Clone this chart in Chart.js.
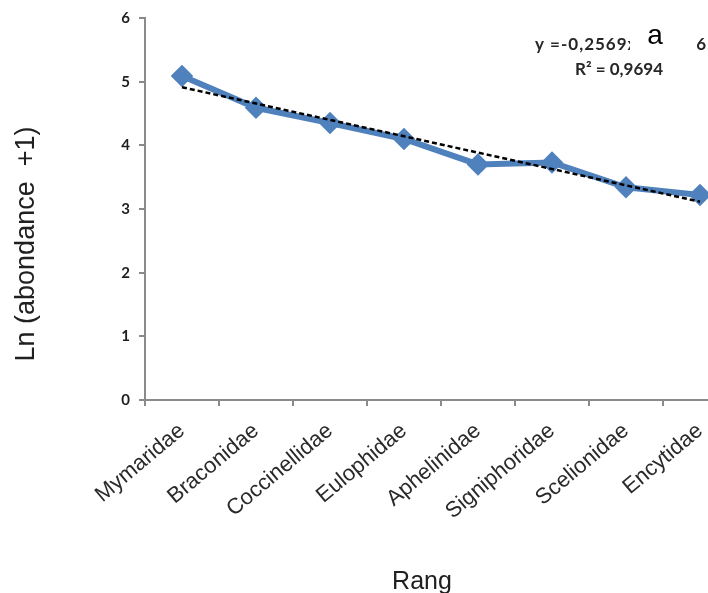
<!DOCTYPE html>
<html>
<head>
<meta charset="utf-8">
<script src="https://cdn.jsdelivr.net/npm/chart.js@4.4.1/dist/chart.umd.min.js"></script>
<style>
  html, body { margin: 0; padding: 0; background: #ffffff; overflow: hidden; width: 708px; height: 593px; }
  #wrap { position: relative; width: 750px; height: 600px; }
</style>
</head>
<body>
<div id="wrap"><canvas id="chart" width="750" height="600"></canvas></div>
<script>
// Families ranked by abundance, with ln(abundance + 1)
const families = ['Mymaridae', 'Braconidae', 'Coccinellidae', 'Eulophidae', 'Aphelinidae', 'Signiphoridae', 'Scelionidae', 'Encytidae'];
const lnAbundance = [5.09, 4.59, 4.35, 4.10, 3.70, 3.73, 3.34, 3.22];
const yTickValues = [0, 1, 2, 3, 4, 5, 6];

// Linear trend on rank
const trendSlope = -0.2569;
const trendIntercept = 5.17;
const trendEquation = 'y =-0,2569x + 5,1765';
const trendR2Text = 'R² = 0,9694';
const trendValues = families.map((_, i) => trendSlope * (i + 1) + trendIntercept);

const yTitle = 'Ln (abondance  +1)';
const xTitle = 'Rang';
const panelLetter = 'a';

const overlayText = {
  id: 'overlayText',
  afterDraw(chart) {
    const ctx = chart.ctx;
    ctx.save();
    // y axis title
    ctx.save();
    ctx.translate(27, 244);
    ctx.rotate(-Math.PI / 2);
    ctx.font = '27px "Liberation Sans", Arial, sans-serif';
    ctx.fillStyle = '#202020';
    ctx.textAlign = 'center';
    ctx.textBaseline = 'middle';
    ctx.fillText(yTitle, 0, 0);
    ctx.restore();

    // x axis title
    ctx.font = '25px "Liberation Sans", Arial, sans-serif';
    ctx.fillStyle = '#202020';
    ctx.textAlign = 'center';
    ctx.textBaseline = 'alphabetic';
    ctx.fillText(xTitle, 422, 589);

    // trend equation and R²
    ctx.font = 'bold 17px Lato, "Open Sans", sans-serif';
    ctx.fillStyle = '#262626';
    ctx.textAlign = 'left';
    ctx.textBaseline = 'middle';
    ctx.letterSpacing = '1px';
    ctx.fillText(trendEquation, 535, 45);
    ctx.letterSpacing = '0px';
    ctx.fillText(trendR2Text, 575, 70);

    // panel letter on a white box
    ctx.fillStyle = '#ffffff';
    ctx.fillRect(630, 18, 67, 40);
    ctx.font = '28px "Liberation Sans", Arial, sans-serif';
    ctx.fillStyle = '#000000';
    ctx.textAlign = 'center';
    ctx.textBaseline = 'alphabetic';
    ctx.fillText(panelLetter, 655, 44);
    ctx.restore();
  }
};

new Chart(document.getElementById('chart'), {
  type: 'line',
  data: {
    labels: families,
    datasets: [
      {
        label: 'ln(abondance + 1)',
        data: lnAbundance,
        borderColor: '#4F81BD',
        backgroundColor: '#4F81BD',
        borderWidth: 6,
        pointStyle: 'rectRot',
        pointRadius: 7,
        pointHoverRadius: 7,
        tension: 0,
        order: 2
      },
      {
        label: 'Linéaire',
        data: trendValues,
        borderColor: '#000000',
        borderWidth: 2.5,
        borderDash: [5, 3],
        pointRadius: 0,
        tension: 0,
        order: 1
      }
    ]
  },
  options: {
    responsive: false,
    devicePixelRatio: 1,
    animation: false,
    layout: { padding: { top: 14, right: 8, left: 0, bottom: 0 } },
    plugins: {
      legend: { display: false },
      tooltip: { enabled: false }
    },
    scales: {
      x: {
        type: 'category',
        offset: true,
        grid: { display: true, offset: true, drawOnChartArea: false, drawTicks: true, tickLength: 6, color: '#8a8a8a', lineWidth: 2 },
        border: { display: true, color: '#8a8a8a', width: 2 },
        ticks: {
          autoSkip: false,
          minRotation: 40,
          maxRotation: 40,
          padding: 12,
          color: '#2a2a2a',
          font: { family: '"Liberation Sans", Arial, sans-serif', size: 22 }
        },
        afterFit(scale) { scale.height = 200; }
      },
      y: {
        min: 0,
        max: 6,
        afterBuildTicks(scale) { scale.ticks = yTickValues.map(v => ({ value: v })); },
        grid: { display: true, drawOnChartArea: false, drawTicks: true, tickLength: 6, color: '#8a8a8a', lineWidth: 2 },
        border: { display: true, color: '#8a8a8a', width: 2 },
        ticks: {
          padding: 9,
          color: '#1e1e1e',
          font: { family: 'Lato, "Open Sans", sans-serif', size: 15, weight: 'bold' }
        },
        afterFit(scale) { scale.width = 145; }
      }
    }
  },
  plugins: [overlayText]
});
</script>
</body>
</html>
